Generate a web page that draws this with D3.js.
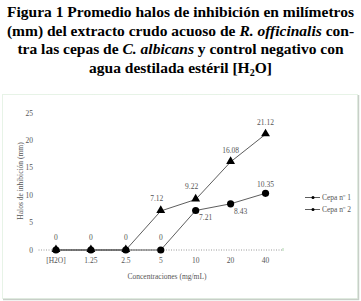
<!DOCTYPE html>
<html><head><meta charset="utf-8">
<script src="https://cdn.jsdelivr.net/npm/d3@7"></script>
<style>body{margin:0;background:#fff}svg{display:block}</style>
</head><body>
<script>
const categories = ["[H2O]", "1.25", "2.5", "5", "10", "20", "40"];
const cepa1 = [0, 0, 0, 7.12, 9.22, 16.08, 21.12];
const cepa2 = [0, 0, 0, 0, 7.21, 8.43, 10.35];
const yTicks = [0, 5, 10, 15, 20, 25];
const seriesNames = ["Cepa nº 1", "Cepa nº 2"];

const W = 361, H = 301;
const svg = d3.select("body").append("svg").attr("width", W).attr("height", H);
const serif = "'Liberation Serif','Times New Roman',serif";

// Title
const titleLines = [
  [{t:"Figura 1 Promedio halos de inhibición en milímetros"}],
  [{t:"(mm) del extracto crudo acuoso de "},{t:"R. officinalis",i:1},{t:" con-"}],
  [{t:"tra las cepas de "},{t:"C. albicans",i:1},{t:" y control negativo con"}],
  [{t:"agua destilada estéril [H"},{t:"2",sub:1},{t:"O]"}]
];
titleLines.forEach((parts, k) => {
  const tx = svg.append("text").attr("x", W/2).attr("y", 17 + k*18.5)
    .attr("text-anchor", "middle").attr("font-family", serif)
    .attr("font-weight", "bold").attr("font-size", 15.5).attr("fill", "#000");
  parts.forEach(p => {
    const ts = tx.append("tspan").text(p.t);
    if (p.i) ts.attr("font-style", "italic");
    if (p.sub) ts.attr("font-size", 10).attr("dy", 3);
    else if (k === 3 && p.t === "O]") ts.attr("dy", -3);
  });
});

// Chart frame
svg.append("rect").attr("x", 2.5).attr("y", 94.5).attr("width", 355).attr("height", 204)
  .attr("fill", "none").attr("stroke", "#cfe6cf").attr("stroke-dasharray", "1,1");
svg.append("path").attr("d", "M358.5,95 V299.5 H3").attr("fill", "none").attr("stroke", "#c8cfc8").attr("stroke-width", 1.5);

const x = d3.scaleBand().domain(categories).range([38.5, 283]);
const y = d3.scaleLinear().domain([0, 25]).range([250, 113]);
const cx = c => x(c) + x.bandwidth()/2;

// Zero baseline
svg.append("line").attr("x1", 38.5).attr("x2", 283).attr("y1", y(0)).attr("y2", y(0))
  .attr("stroke", "#999").attr("stroke-dasharray", "1,1.5");
svg.append("line").attr("x1", 283).attr("x2", 283).attr("y1", y(0)-2).attr("y2", y(0)+1)
  .attr("stroke", "#9c9").attr("stroke-width", 0.8);

const txtCol = "#555";
// Y tick labels
svg.append("g").selectAll("text").data(yTicks).join("text")
  .attr("x", 33).attr("y", d => y(d)).attr("dy", "0.35em").attr("text-anchor", "end")
  .attr("font-family", serif).attr("font-size", 7.5).attr("fill", txtCol).text(d => d);

// X tick labels
svg.append("g").selectAll("text").data(categories).join("text")
  .attr("x", d => cx(d)).attr("y", 263).attr("text-anchor", "middle")
  .attr("font-family", serif).attr("font-size", 7.5).attr("fill", txtCol).text(d => d);

// Axis titles
svg.append("text").attr("x", 167).attr("y", 279).attr("text-anchor", "middle")
  .attr("font-family", serif).attr("font-size", 7.5).attr("fill", txtCol).text("Concentraciones (mg/mL)");
svg.append("text").attr("transform", "translate(23,181) rotate(-90)").attr("text-anchor", "middle")
  .attr("font-family", serif).attr("font-size", 7.5).attr("fill", txtCol).text("Halos de inhibición (mm)");

const line = d3.line().x((d, i) => cx(categories[i])).y(d => y(d));
[cepa2, cepa1].forEach(s => {
  svg.append("path").datum(s).attr("d", line).attr("fill", "none")
    .attr("stroke", "#333").attr("stroke-width", 0.8);
});

// markers
svg.append("g").selectAll("circle").data(cepa2).join("circle")
  .attr("cx", (d, i) => cx(categories[i])).attr("cy", d => y(d)).attr("r", 3.6).attr("fill", "#000");
const tri = d3.symbol().type(d3.symbolTriangle).size(34);
svg.append("g").selectAll("path").data(cepa1).join("path")
  .attr("d", tri).attr("transform", (d, i) => `translate(${cx(categories[i])},${y(d)-0.5})`).attr("fill", "#000");

// Data labels
const lab = (txt, lx, ly) => svg.append("text").attr("x", lx).attr("y", ly).attr("text-anchor", "middle")
  .attr("font-family", serif).attr("font-size", 7.5).attr("fill", txtCol).text(txt);
cepa1.forEach((d, i) => {
  const px = cx(categories[i]), py = y(d);
  if (d === 0) return;
  if (i === 3 || i === 4) lab(d, px - 4, py - 10);
  else lab(d, px, py - 9);
});
cepa2.forEach((d, i) => {
  const px = cx(categories[i]), py = y(d);
  if (d === 0) lab(d, px, py - 10);
  else if (i === 6) lab(d, px, py - 6);
  else lab(d, px + 10, py + 10);
});

// Legend
seriesNames.forEach((n, k) => {
  const ly = 197.5 + k * 12;
  svg.append("line").attr("x1", 305).attr("x2", 320).attr("y1", ly).attr("y2", ly).attr("stroke", "#333").attr("stroke-width", 0.8);
  svg.append("circle").attr("cx", 313).attr("cy", ly).attr("r", 1.5).attr("fill", "#000");
  svg.append("text").attr("x", 322).attr("y", ly).attr("dy", "0.35em")
    .attr("font-family", serif).attr("font-size", 7.5).attr("fill", txtCol).text(n);
});
</script>
</body></html>
